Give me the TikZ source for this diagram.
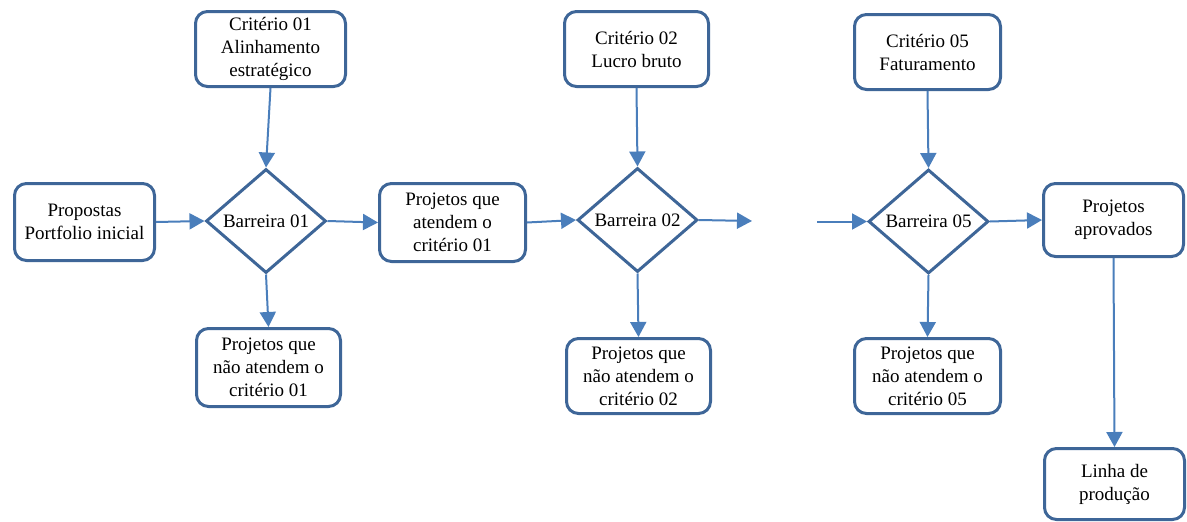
\documentclass[tikz,border=0pt]{standalone}
\usepackage{fontspec}
\newfontfamily\tnr{Liberation Serif}
\usetikzlibrary{shapes.geometric,arrows.meta}
\definecolor{boxc}{RGB}{62,102,152}
\definecolor{arrc}{RGB}{74,126,187}
\tikzset{
  box/.style={draw=boxc, line width=3pt, rounded corners=12pt, fill=white, align=center,
    inner sep=0pt, font=\tnr\fontsize{19}{23}\selectfont},
  gate/.style={draw=boxc, line width=3pt, diamond, aspect=1.15, fill=white, inner sep=0pt,
    minimum width=120pt, minimum height=104pt, font=\tnr\fontsize{19}{23}\selectfont},
  arr/.style={draw=arrc, line width=2pt, -{Triangle[length=15pt,width=16pt]}}
}
\begin{document}
\begin{tikzpicture}[x=1pt,y=-1pt]
\useasboundingbox (0,0) rectangle (1187,522);
% boxes
\node[box, minimum width=150pt, minimum height=75pt] (crit1) at (270.5,49) {Critério 01\\Alinhamento\\estratégico};
\node[box, minimum width=140pt, minimum height=77pt] (prop) at (84.5,222) {Propostas\\Portfolio inicial};
\node[gate] (d1) at (266,221) {Barreira 01};
\node[box, minimum width=146pt, minimum height=78pt] (ate1) at (452.5,222.5) {Projetos que\\atendem o\\critério 01};
\node[box, minimum width=144pt, minimum height=78pt] (nao1) at (268.5,367.5) {Projetos que\\não atendem o\\critério 01};
\node[box, minimum width=144pt, minimum height=75pt] (crit2) at (636.5,49) {Critério 02\\Lucro bruto};
\node[gate] (d2) at (637.5,220) {Barreira 02};
\node[box, minimum width=144pt, minimum height=75pt] (nao2) at (638.5,376) {Projetos que\\não atendem o\\critério 02};
\node[box, minimum width=146pt, minimum height=75pt] (crit5) at (927.5,52) {Critério 05\\Faturamento};
\node[gate] (d5) at (928.5,221.5) {Barreira 05};
\node[box, minimum width=146pt, minimum height=75pt] (nao5) at (927.5,376) {Projetos que\\não atendem o\\critério 05};
\node[box, minimum width=140pt, minimum height=73pt] (aprov) at (1113.5,220) {Projetos\\aprovados};
\node[box, minimum width=140pt, minimum height=71pt] (linha) at (1114.5,484) {Linha de\\produção};
\coordinate (gapA) at (752,221);
\coordinate (gapB) at (817,221.5);
% connectors
\draw[arr] (crit1.south) -- (d1.north);
\draw[arr] (prop.east) -- (d1.west);
\draw[arr] (d1.east) -- (ate1.west);
\draw[arr] (d1.south) -- (nao1.north);
\draw[arr] (ate1.east) -- (d2.west);
\draw[arr] (crit2.south) -- (d2.north);
\draw[arr] (d2.south) -- (nao2.north);
\draw[arr] (d2.east) -- (gapA);
\draw[arr] (gapB) -- (d5.west);
\draw[arr] (crit5.south) -- (d5.north);
\draw[arr] (d5.south) -- (nao5.north);
\draw[arr] (d5.east) -- (aprov.west);
\draw[arr] (aprov.south) -- (linha.north);
\end{tikzpicture}
\end{document}
